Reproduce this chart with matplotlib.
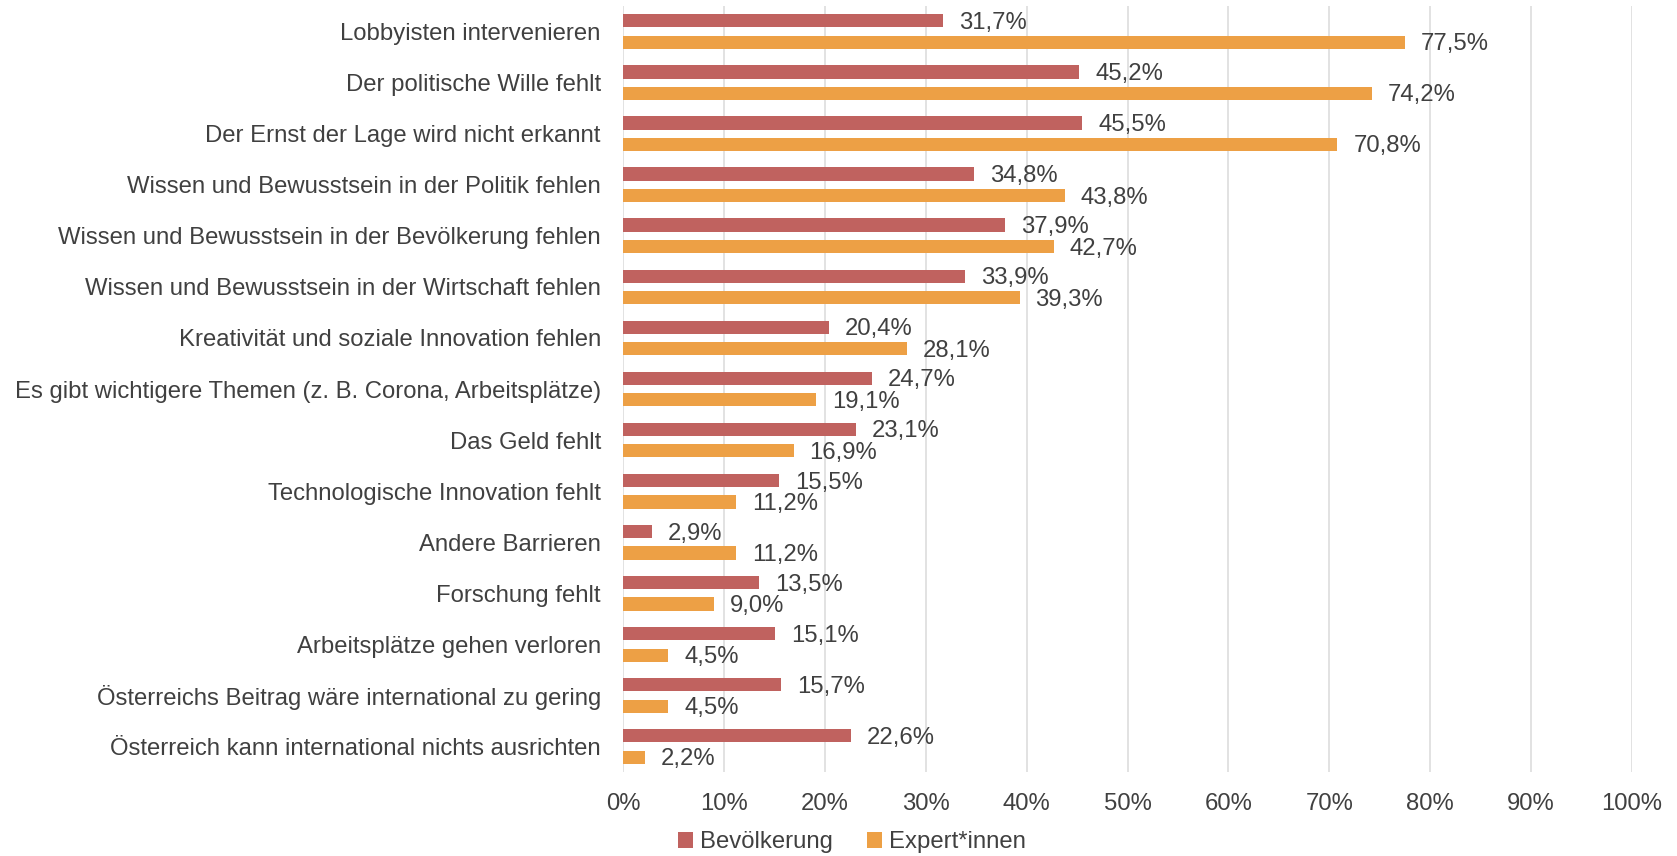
import numpy as np
import matplotlib.pyplot as plt

plt.rcParams['font.family'] = ['Liberation Sans', 'DejaVu Sans']

categories = [
    "Lobbyisten intervenieren",
    "Der politische Wille fehlt",
    "Der Ernst der Lage wird nicht erkannt",
    "Wissen und Bewusstsein in der Politik fehlen",
    "Wissen und Bewusstsein in der Bevölkerung fehlen",
    "Wissen und Bewusstsein in der Wirtschaft fehlen",
    "Kreativität und soziale Innovation fehlen",
    "Es gibt wichtigere Themen (z. B. Corona, Arbeitsplätze)",
    "Das Geld fehlt",
    "Technologische Innovation fehlt",
    "Andere Barrieren",
    "Forschung fehlt",
    "Arbeitsplätze gehen verloren",
    "Österreichs Beitrag wäre international zu gering",
    "Österreich kann international nichts ausrichten",
]
bevoelkerung = [31.7, 45.2, 45.5, 34.8, 37.9, 33.9, 20.4, 24.7, 23.1, 15.5, 2.9, 13.5, 15.1, 15.7, 22.6]
experten = [77.5, 74.2, 70.8, 43.8, 42.7, 39.3, 28.1, 19.1, 16.9, 11.2, 11.2, 9.0, 4.5, 4.5, 2.2]
x_ticks = list(range(0, 101, 10))

RED = "#C0625F"
ORANGE = "#EDA045"
TXT = "#404040"
FS = 17.2

fig = plt.figure(figsize=(16.77, 8.56), dpi=100)
ax = fig.add_axes([0.3715, 0.098, 0.6017, 0.895])

y = np.arange(len(categories))
h = 0.26
off = 0.21
b1 = ax.barh(y - off, bevoelkerung, height=h, color=RED, label="Bevölkerung", zorder=3)
b2 = ax.barh(y + off, experten, height=h, color=ORANGE, label="Expert*innen", zorder=3)

for bars, vals in ((b1, bevoelkerung), (b2, experten)):
    for bar, v in zip(bars, vals):
        ax.annotate(f"{v:.1f}%".replace(".", ","),
                    (bar.get_width(), bar.get_y() + bar.get_height() / 2),
                    xytext=(11.5, -1.5), textcoords="offset points",
                    ha="left", va="center", fontsize=FS, color=TXT)

ax.set_xlim(0, 100)
ax.set_ylim(len(categories) - 0.5, -0.5)
ax.set_xticks(x_ticks)
ax.set_xticklabels([f"{t}%" for t in x_ticks], fontsize=FS, color=TXT)
ax.set_yticks(y)
ax.set_yticklabels(categories, fontsize=FS, color=TXT)
ax.tick_params(axis="both", length=0)
ax.tick_params(axis="x", pad=15)
ax.tick_params(axis="y", pad=16)
ax.grid(axis="x", color="#DDDDDD", linewidth=1.2, zorder=0)
for s in ax.spines.values():
    s.set_visible(False)

fig.legend(handles=[b1, b2], loc="lower center", bbox_to_anchor=(0.508, -0.022),
           ncol=2, frameon=False, fontsize=FS, labelcolor=TXT,
           handlelength=0.65, handleheight=0.65, handletextpad=0.3, columnspacing=1.4)

fig.savefig("out.png", dpi=100)
